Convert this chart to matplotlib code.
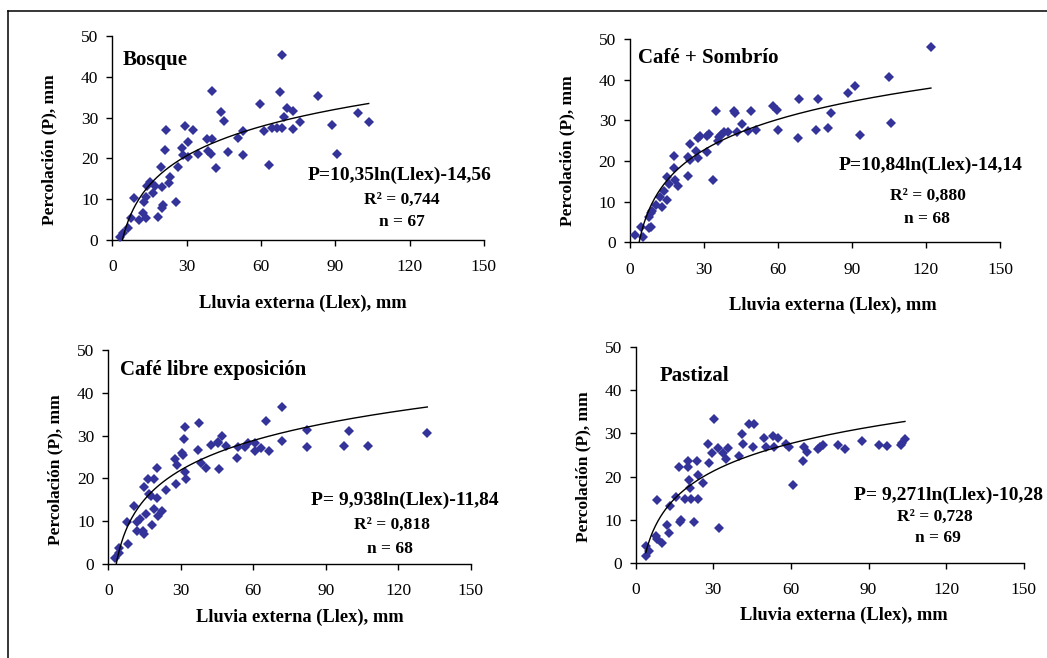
import numpy as np
import matplotlib
matplotlib.use("Agg")
import matplotlib.pyplot as plt
from matplotlib.lines import Line2D

plt.rcParams["font.family"] = ["Liberation Serif", "DejaVu Serif"]

# --- data (Llex mm, P mm) ---
bosque_x = [3.1, 4.4, 6.2, 7.4, 8.9, 10.8, 12.5, 13.5, 12.7, 13.5, 13.9, 15.2, 16.6, 17.2, 18.6,
            19.9, 20.6, 20.2, 19.7, 21.3, 21.8, 23.3, 23.0, 25.7, 26.4, 28.3, 28.7, 29.5, 30.4, 30.7,
            32.4, 34.5, 38.1, 38.8, 39.7, 40.2, 40.2, 41.9, 43.9, 45.2, 46.7, 50.6, 52.8, 52.8, 59.6,
            61.2, 63.1, 64.3, 66.4, 68.5, 67.8, 68.6, 69.2, 70.4, 72.9, 72.9, 75.8, 83.0, 88.6, 90.6,
            99.3, 103.5]
bosque_y = [0.8, 1.6, 2.9, 5.5, 10.4, 4.9, 6.7, 5.3, 9.2, 10.6, 13.3, 14.1, 11.6, 13.2, 5.6,
            7.8, 8.6, 13.1, 18.0, 22.1, 27.0, 15.5, 13.9, 9.2, 17.8, 22.5, 20.8, 27.9, 20.3, 23.9,
            27.0, 21.2, 24.7, 21.8, 21.2, 24.7, 36.4, 17.6, 31.4, 29.2, 21.6, 25.1, 20.8, 26.6, 33.3,
            26.8, 18.3, 27.4, 27.4, 27.4, 36.2, 45.3, 30.2, 32.4, 31.7, 27.3, 28.9, 35.3, 28.1, 21.0,
            31.2, 28.9]

sombra_x = [2.0, 4.3, 5.1, 7.7, 8.5, 7.7, 8.4, 9.1, 10.4, 12.2, 12.8, 13.9, 15.1, 14.9, 15.9,
            17.8, 18.0, 18.2, 19.3, 23.4, 23.6, 24.3, 24.3, 26.8, 27.4, 27.6, 28.4, 31.1, 31.4, 32.2,
            33.8, 34.7, 35.5, 36.0, 36.9, 38.2, 39.9, 42.2, 42.7, 43.2, 45.3, 48.0, 49.1, 50.9, 58.1,
            59.5, 60.1, 68.0, 68.4, 75.3, 76.1, 80.1, 81.5, 88.4, 91.4, 93.2, 105.1, 105.7, 122.0]
sombra_y = [1.8, 3.8, 1.3, 3.6, 3.8, 6.1, 7.1, 7.7, 9.2, 11.1, 8.8, 12.6, 10.4, 16.1, 14.3,
            21.2, 18.2, 15.2, 13.9, 16.4, 21.1, 24.1, 20.2, 22.5, 25.6, 20.7, 26.1, 22.1, 26.1, 26.6,
            15.3, 32.4, 24.8, 26.0, 26.4, 27.2, 27.2, 32.3, 31.7, 27.2, 29.1, 27.4, 32.3, 27.6, 33.4,
            32.5, 27.5, 25.7, 35.2, 27.5, 35.2, 28.0, 31.7, 36.6, 38.4, 26.4, 40.6, 29.3, 48.1]

libre_x = [2.8, 4.4, 4.4, 7.6, 8.0, 10.6, 11.7, 11.7, 13.1, 14.2, 14.9, 14.8, 15.6, 16.3, 16.8,
           18.2, 18.9, 19.0, 20.0, 20.3, 20.4, 22.1, 23.7, 27.6, 28.0, 28.6, 30.3, 31.0, 31.4, 31.7,
           31.7, 32.1, 37.0, 37.5, 38.3, 40.4, 42.5, 45.2, 45.8, 46.9, 48.6, 53.1, 53.5, 56.6, 57.9,
           60.7, 60.7, 63.2, 65.2, 66.5, 71.7, 72.0, 82.1, 82.1, 97.7, 99.7, 107.6, 132.0, 17.6, 45.5]
libre_y = [1.3, 3.7, 2.5, 9.9, 4.6, 13.6, 9.9, 7.6, 10.4, 7.7, 6.9, 18.1, 11.6, 19.8, 16.3,
           9.0, 19.8, 12.8, 15.5, 22.4, 11.1, 12.5, 17.3, 24.5, 18.6, 23.1, 26.0, 25.5, 29.3, 32.1,
           21.6, 19.8, 26.6, 32.9, 23.7, 22.5, 27.8, 28.6, 22.2, 29.8, 27.6, 24.7, 27.3, 27.3, 28.2,
           28.2, 26.4, 27.2, 33.3, 26.5, 36.6, 28.8, 31.2, 27.4, 27.6, 31.1, 27.6, 30.7, 16.0, 28.3]

pasto_x = [4.0, 3.9, 5.3, 8.1, 8.1, 7.8, 10.0, 12.2, 13.0, 13.3, 15.6, 16.8, 17.1, 17.5, 19.1,
           20.4, 20.4, 20.6, 21.0, 21.3, 22.5, 23.6, 24.0, 24.0, 25.9, 28.1, 28.5, 29.5, 30.3, 31.7,
           32.2, 33.9, 34.9, 35.8, 40.0, 41.0, 41.4, 43.9, 45.9, 45.5, 49.7, 50.3, 53.0, 53.5, 55.2,
           58.0, 59.4, 61.0, 64.6, 65.2, 66.4, 70.6, 71.3, 72.6, 78.4, 80.9, 87.6, 94.2, 97.0, 102.4,
           102.8, 104.1]
pasto_y = [1.5, 3.9, 2.6, 14.6, 5.4, 6.2, 4.5, 8.7, 6.8, 13.2, 15.3, 22.1, 9.5, 9.8, 14.9,
           23.5, 22.1, 19.3, 17.3, 14.9, 9.5, 23.6, 14.9, 20.4, 18.6, 27.6, 23.1, 25.5, 33.3, 26.7,
           8.1, 25.4, 24.1, 26.7, 24.8, 29.9, 27.5, 32.2, 32.2, 26.9, 29.0, 26.9, 29.3, 26.9, 29.0,
           27.6, 26.8, 18.0, 23.7, 26.8, 25.8, 26.5, 26.9, 27.3, 27.3, 26.5, 28.3, 27.3, 27.1, 27.4,
           27.8, 28.7]

# log fits P = a ln(Llex) + b
fit_a = [10.35, 10.84, 9.938, 9.271]
fit_b = [-14.56, -14.14, -11.84, -10.28]
titles = ["Bosque", "Café + Sombrío", "Café libre exposición", "Pastizal"]
eq_texts = ["P=10,35ln(Llex)-14,56", "P=10,84ln(Llex)-14,14",
            "P= 9,938ln(Llex)-11,84", "P= 9,271ln(Llex)-10,28"]
r2_texts = ["R² = 0,744", "R² = 0,880", "R² = 0,818", "R² = 0,728"]
n_texts = ["n = 67", "n = 68", "n = 68", "n = 69"]
x_ticks = [0, 30, 60, 90, 120, 150]
y_ticks = [0, 10, 20, 30, 40, 50]

# --- layout (figure pixels / axes fractions) ---
_W, _H = 1047, 658
_MARKER = "#333399"

# axes rectangles in pixels: x0, y0 (axis origin), width, height
_AX_PIX = [
    (112.3, 240.0, 371.6, 204.0),
    (630.0, 242.3, 370.0, 203.3),
    (108.3, 564.0, 362.5, 214.0),
    (635.7, 562.7, 388.0, 215.4),
]
_TITLE_POS = [(0.028, 0.882), (0.022, 0.905), (0.032, 0.907), (0.061, 0.867)]
_EQ_POS = [(0.774, 0.319), (0.813, 0.380), (0.817, 0.296), (0.805, 0.314)]
_R2_POS = [(0.778, 0.196), (0.806, 0.229), (0.782, 0.182), (0.771, 0.214)]
_N_POS = [(0.778, 0.090), (0.802, 0.115), (0.777, 0.069), (0.779, 0.113)]
_YLAB_POS = [(-0.168, 0.444), (-0.170, 0.449), (-0.147, 0.439), (-0.136, 0.444)]
_XLAB_POS = [(0.513, -0.309), (0.548, -0.312), (0.528, -0.248), (0.536, -0.243)]

fig = plt.figure(figsize=(_W / 100, _H / 100), dpi=100)
fig.patch.set_facecolor("white")

# frame lines (top and left only)
fx = 8.3 / _W
fy = 1 - 10.7 / _H
fig.add_artist(Line2D([fx, 1.0], [fy, fy], color="black", lw=1.1, transform=fig.transFigure))
fig.add_artist(Line2D([fx, fx], [0.0, fy], color="black", lw=1.1, transform=fig.transFigure))

panels = [(bosque_x, bosque_y), (sombra_x, sombra_y), (libre_x, libre_y), (pasto_x, pasto_y)]

for i, (px, py) in enumerate(panels):
    x0, y0, w, h = _AX_PIX[i]
    ax = fig.add_axes([x0 / _W, 1 - y0 / _H, w / _W, h / _H])
    ax.set_xlim(0, 150)
    ax.set_ylim(0, 50)
    ax.set_xticks(x_ticks)
    ax.set_yticks(y_ticks)
    for s in ("top", "right"):
        ax.spines[s].set_visible(False)
    for s in ("left", "bottom"):
        ax.spines[s].set_linewidth(1.0)
    ax.tick_params(axis="both", direction="out", length=4, width=1.0, labelsize=12.5)
    ax.tick_params(axis="x", pad=10)
    ax.tick_params(axis="y", pad=6)
    ax.patch.set_alpha(0)

    ax.plot(px, py, linestyle="none", marker="D", markersize=4.6,
            color=_MARKER, markeredgewidth=0, clip_on=False, zorder=3)

    xs = np.linspace(min(px), max(px), 300)
    ax.plot(xs, fit_a[i] * np.log(xs) + fit_b[i], color="black", lw=1.0, zorder=4)

    ax.text(*_TITLE_POS[i], titles[i], transform=ax.transAxes, ha="left", va="center",
            fontsize=15, fontweight="bold")
    ax.text(*_EQ_POS[i], eq_texts[i], transform=ax.transAxes, ha="center", va="center",
            fontsize=14, fontweight="bold")
    ax.text(*_R2_POS[i], r2_texts[i], transform=ax.transAxes, ha="center", va="center",
            fontsize=12.5, fontweight="bold")
    ax.text(*_N_POS[i], n_texts[i], transform=ax.transAxes, ha="center", va="center",
            fontsize=12.5, fontweight="bold")

    ax.set_ylabel("Percolación (P), mm", fontsize=12.5, fontweight="bold")
    ax.yaxis.set_label_coords(*_YLAB_POS[i])
    ax.yaxis.label.set_va("center")
    ax.set_xlabel("Lluvia externa (Llex), mm", fontsize=13.2, fontweight="bold")
    ax.xaxis.set_label_coords(*_XLAB_POS[i])
    ax.xaxis.label.set_va("center")

fig.savefig("out.png", dpi=100)
